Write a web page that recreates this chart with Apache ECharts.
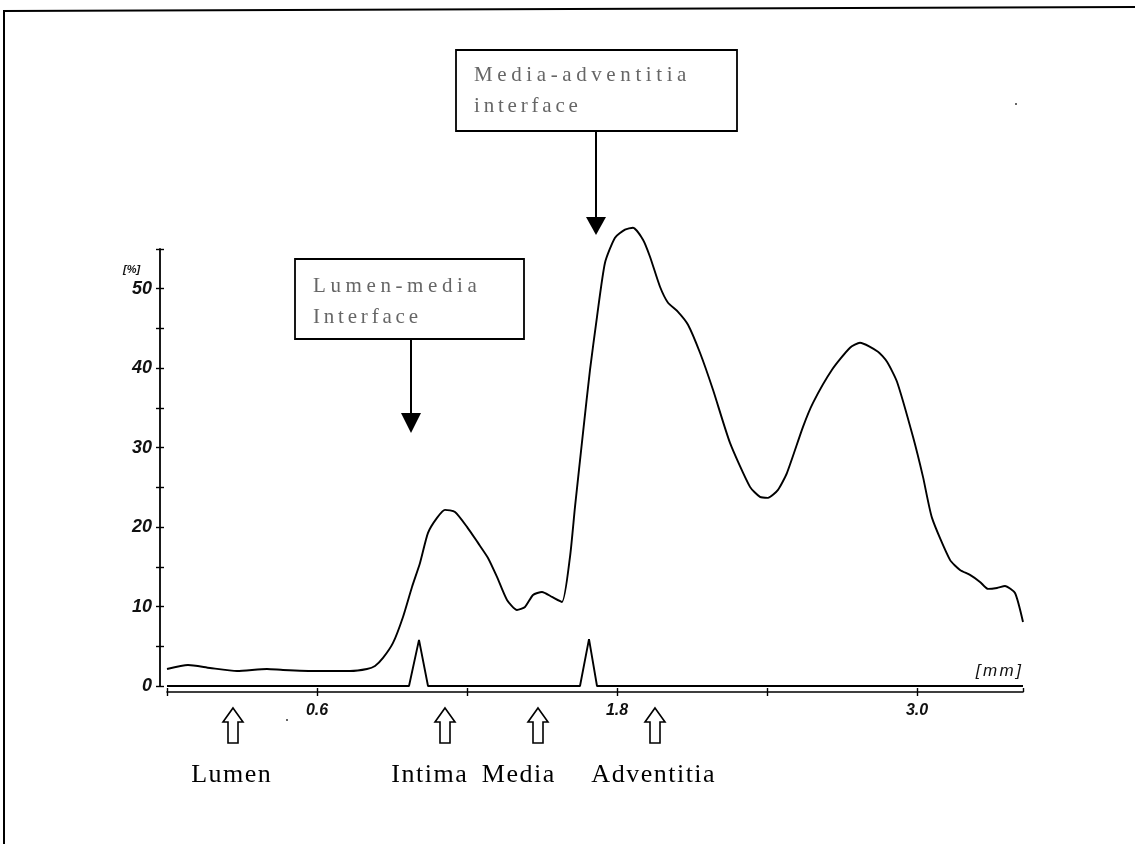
<!DOCTYPE html>
<html>
<head>
<meta charset="utf-8">
<script src="https://cdn.jsdelivr.net/npm/echarts@6/dist/echarts.min.js"></script>
<style>
  html, body { margin: 0; padding: 0; background: #fff; }
  #chart { width: 1135px; height: 844px; }
</style>
</head>
<body>
<div id="chart"></div>
<script>
// Echo intensity profile across the vessel wall
const distanceMm = [0.000, 0.084, 0.172, 0.280, 0.400, 0.464, 0.600, 0.732, 0.800, 0.832, 0.864, 0.904, 0.944, 0.980, 1.012, 1.044, 1.080, 1.112, 1.152, 1.200, 1.244, 1.284, 1.320, 1.360, 1.400, 1.432, 1.464, 1.500, 1.540, 1.580, 1.612, 1.632, 1.664, 1.692, 1.720, 1.752, 1.792, 1.832, 1.864, 1.904, 1.932, 1.972, 2.004, 2.044, 2.084, 2.132, 2.184, 2.252, 2.332, 2.372, 2.404, 2.444, 2.480, 2.544, 2.584, 2.660, 2.732, 2.772, 2.844, 2.880, 2.920, 2.984, 3.024, 3.060, 3.132, 3.172, 3.212, 3.252, 3.284, 3.320, 3.352, 3.392, 3.424];
const intensityPct = [2.14, 2.64, 2.27, 1.89, 2.14, 2.02, 1.89, 1.89, 2.14, 2.52, 3.53, 5.42, 8.69, 12.47, 15.49, 19.27, 21.16, 22.17, 21.91, 20.03, 18.01, 16.12, 13.73, 10.83, 9.57, 9.95, 11.46, 11.84, 11.21, 10.58, 16.25, 22.54, 31.86, 39.80, 46.47, 53.27, 56.42, 57.43, 57.68, 56.17, 54.03, 50.25, 48.24, 47.10, 45.47, 41.94, 37.28, 30.60, 25.06, 23.80, 23.68, 24.69, 26.83, 32.62, 35.64, 39.80, 42.57, 43.20, 42.07, 40.81, 38.29, 31.36, 26.32, 21.16, 15.87, 14.61, 13.98, 13.10, 12.22, 12.34, 12.59, 11.71, 8.06];

// Interface markers (baseline trace with two spikes)
const markerMm = [0.000, 0.968, 1.008, 1.044, 1.652, 1.688, 1.720, 3.424];
const markerPct = [0, 0, 5.8, 0, 0, 5.9, 0, 0];

const xLabelTicks = [0.6, 1.8, 3.0];
const yLabelTicks = [0, 10, 20, 30, 40, 50];
const layerNames = ['Lumen', 'Intima', 'Media', 'Adventitia'];
const interfaceNotes = [['Lumen-media', 'Interface'], ['Media-adventitia', 'interface']];

const chart = echarts.init(document.getElementById('chart'), null, { renderer: 'canvas' });

const curve = distanceMm.map((x, i) => [x, intensityPct[i]]);
const markers = markerMm.map((x, i) => [x, markerPct[i]]);

const sans = 'Liberation Sans, Arial, sans-serif';
const serif = 'Liberation Serif, Times New Roman, serif';
const axisFont = { fontFamily: sans, fontStyle: 'italic', fontWeight: 'bold', color: '#111' };

// Text with extra tracking between glyphs, laid out one glyph at a time
const measureCtx = document.createElement('canvas').getContext('2d');
function spacedText(str, x, y, font, spacing, fill, align) {
  measureCtx.font = font;
  const widths = Array.from(str).map(ch => measureCtx.measureText(ch).width);
  const total = widths.reduce((a, b) => a + b, 0) + spacing * (widths.length - 1);
  let cx = align === 'center' ? x - total / 2 : align === 'right' ? x - total : x;
  const children = Array.from(str).map((ch, i) => {
    const el = { type: 'text', x: cx, y: y, z: 12, style: { text: ch, font: font, fill: fill, textVerticalAlign: 'middle' } };
    cx += widths[i] + spacing;
    return el;
  });
  return { type: 'group', children: children };
}

function hollowArrow(cx) {
  const top = 708, headBottom = 722, bottom = 743, hw = 10, sw = 5;
  return {
    type: 'polygon',
    shape: { points: [[cx, top], [cx + hw, headBottom], [cx + sw, headBottom], [cx + sw, bottom], [cx - sw, bottom], [cx - sw, headBottom], [cx - hw, headBottom]] },
    style: { fill: '#fff', stroke: '#000', lineWidth: 1.6 }
  };
}

function noteBox(x, y, w, h, lines, arrowX, arrowTop, arrowTip, lineY1, lineY2) {
  const f = '21px ' + serif;
  return [
    { type: 'rect', z: 10, shape: { x: x, y: y, width: w, height: h }, style: { fill: '#fff', stroke: '#000', lineWidth: 1.8 } },
    spacedText(lines[0], x + 18, lineY1, f, 4.6, '#666', 'left'),
    spacedText(lines[1], x + 18, lineY2, f, 3.8, '#666', 'left'),
    { type: 'line', z: 10, shape: { x1: arrowX, y1: y + h, x2: arrowX, y2: arrowTop + 1 }, style: { stroke: '#000', lineWidth: 2 } },
    { type: 'polygon', z: 10, shape: { points: [[arrowX - 10, arrowTop], [arrowX + 10, arrowTop], [arrowX, arrowTip]] }, style: { fill: '#000' } }
  ];
}

const layerX = [233, 445, 538, 655];
const layerTextX = [231, 429, 518, 653];

const graphics = [
  // page frame
  { type: 'line', shape: { x1: 3, y1: 11, x2: 1135, y2: 7 }, style: { stroke: '#000', lineWidth: 2 } },
  { type: 'line', shape: { x1: 4, y1: 11, x2: 4, y2: 844 }, style: { stroke: '#000', lineWidth: 2 } },
  { type: 'circle', shape: { cx: 1016, cy: 104, r: 1 }, style: { fill: '#333' } },
  { type: 'circle', shape: { cx: 287, cy: 720, r: 1 }, style: { fill: '#333' } },
  // axis units
  { type: 'text', x: 123, y: 270, style: { text: '[%]', font: 'italic bold 11px ' + sans, fill: '#111', textVerticalAlign: 'middle' } },
  spacedText('[mm]', 1021, 671, 'italic 17px ' + sans, 2.5, '#111', 'right')
]
  .concat(noteBox(295, 259, 229, 80, interfaceNotes[0], 411, 413, 433, 286, 317))
  .concat(noteBox(456, 50, 281, 81, interfaceNotes[1], 596, 217, 235, 75, 106))
  .concat(layerX.map(hollowArrow))
  .concat(layerNames.map((name, i) => spacedText(name, layerTextX[i], 775, '26px ' + serif, 1.5, '#000', 'center')));

const option = {
  animation: false,
  backgroundColor: '#fff',
  grid: { left: 167, right: 112, top: 249, bottom: 158, containLabel: false },
  xAxis: [
    {
      type: 'value', min: 0, max: 3.424, interval: 0.6, position: 'bottom', offset: 6,
      axisLine: { show: true, onZero: false, lineStyle: { color: '#000', width: 1.6 } },
      axisTick: { show: true, length: 4, lineStyle: { color: '#000', width: 1.4 } },
      splitLine: { show: false },
      axisLabel: {
        margin: 11, fontSize: 16, ...axisFont, showMaxLabel: false,
        formatter: v => xLabelTicks.some(t => Math.abs(t - v) < 1e-6) ? v.toFixed(1) : ''
      }
    },
    {
      type: 'value', min: 0, max: 3.424, interval: 0.6, position: 'bottom', offset: 6,
      axisLine: { show: false, onZero: false },
      axisTick: { show: true, inside: true, length: 4, lineStyle: { color: '#000', width: 1.4 } },
      splitLine: { show: false }, axisLabel: { show: false }
    }
  ],
  yAxis: [
    {
      type: 'value', min: 0, max: 55, interval: 5, position: 'left', offset: 7,
      axisLine: { show: true, onZero: false, lineStyle: { color: '#000', width: 1.8 } },
      axisTick: { show: true, length: 4, lineStyle: { color: '#000', width: 1.4 } },
      splitLine: { show: false },
      axisLabel: {
        margin: 8, fontSize: 18, ...axisFont,
        formatter: v => yLabelTicks.includes(v) ? String(v) : ''
      }
    },
    {
      type: 'value', min: 0, max: 55, interval: 5, position: 'left', offset: 7,
      axisLine: { show: false, onZero: false },
      axisTick: { show: true, inside: true, length: 4, lineStyle: { color: '#000', width: 1.4 } },
      splitLine: { show: false }, axisLabel: { show: false }
    }
  ],
  series: [
    {
      type: 'line', data: curve, showSymbol: false, smooth: 0.2, clip: false,
      lineStyle: { color: '#000', width: 1.9 }, z: 3
    },
    {
      type: 'line', data: markers, showSymbol: false, clip: false,
      lineStyle: { color: '#000', width: 1.9 }, z: 3
    }
  ],
  graphic: graphics
};

chart.setOption(option);
</script>
</body>
</html>
